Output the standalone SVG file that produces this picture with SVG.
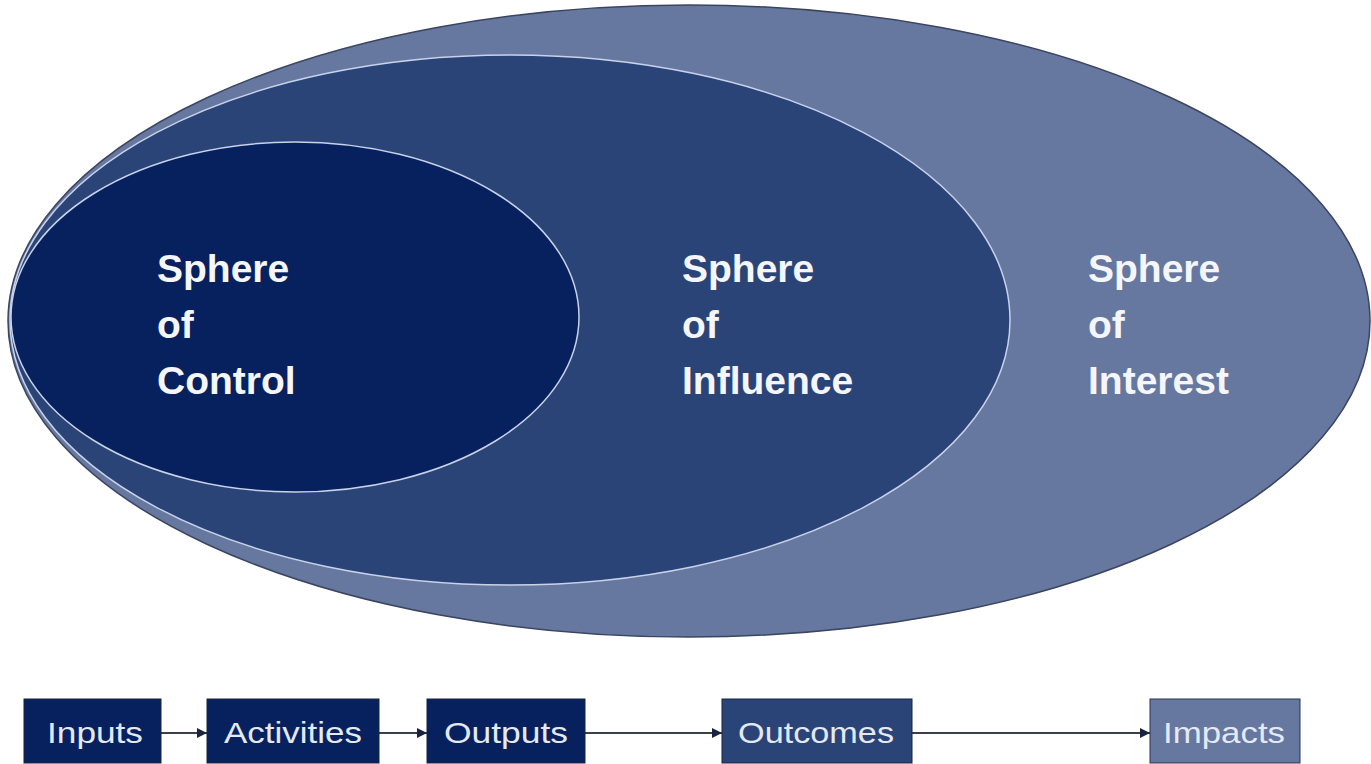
<svg xmlns="http://www.w3.org/2000/svg" width="1371" height="764" viewBox="0 0 1371 764">
<style>
.lbl{font-family:"Liberation Sans",Arial,sans-serif;font-weight:bold;font-size:39px;fill:#f4f6fb}
.blbl{font-family:"Liberation Sans",Arial,sans-serif;font-size:30px;fill:#e4e9f4}
.conn{stroke:#3a3f4a;stroke-width:2;fill:none;marker-end:url(#ah)}
</style>
<defs>
<marker id="ah" viewBox="0 0 10 10" refX="10" refY="5" markerWidth="5" markerHeight="5" orient="auto" markerUnits="strokeWidth">
<path d="M0,0 L10,5 L0,10 z" fill="#1a2440"/>
</marker>
</defs>
<rect width="1371" height="764" fill="#ffffff"/>
<g id="sphere-interest">
<ellipse cx="689" cy="321" rx="681" ry="316" fill="#6677a0" stroke="#3b4560" stroke-width="1.5"/>
<text class="lbl" x="1088" y="282">Sphere</text>
<text class="lbl" x="1088" y="338">of</text>
<text class="lbl" x="1088" y="394">Interest</text>
</g>
<g id="sphere-influence">
<ellipse cx="510" cy="320" rx="500" ry="265" fill="#2a4478" stroke="#c8d2ea" stroke-width="1.5"/>
<text class="lbl" x="682" y="282">Sphere</text>
<text class="lbl" x="682" y="338">of</text>
<text class="lbl" x="682" y="394">Influence</text>
</g>
<g id="sphere-control">
<ellipse cx="295" cy="317" rx="284" ry="175" fill="#06215e" stroke="#c8d2ea" stroke-width="1.5"/>
<text class="lbl" x="157" y="282">Sphere</text>
<text class="lbl" x="157" y="338">of</text>
<text class="lbl" x="157" y="394">Control</text>
</g>
<g id="connectors">
<line class="conn" x1="161" y1="733" x2="207" y2="733"/>
<line class="conn" x1="379" y1="733" x2="427" y2="733"/>
<line class="conn" x1="585" y1="733" x2="722" y2="733"/>
<line class="conn" x1="912" y1="733" x2="1150" y2="733"/>
</g>
<g id="inputs">
<rect x="24" y="699" width="137" height="64" fill="#06215e" stroke="#1a2440"/>
<text class="blbl" x="47" y="743" textLength="96" lengthAdjust="spacingAndGlyphs">Inputs</text>
</g>
<g id="activities">
<rect x="207" y="699" width="172" height="64" fill="#06215e" stroke="#1a2440"/>
<text class="blbl" x="224" y="743" textLength="138" lengthAdjust="spacingAndGlyphs">Activities</text>
</g>
<g id="outputs">
<rect x="427" y="699" width="158" height="64" fill="#06215e" stroke="#1a2440"/>
<text class="blbl" x="444" y="743" textLength="124" lengthAdjust="spacingAndGlyphs">Outputs</text>
</g>
<g id="outcomes">
<rect x="722" y="699" width="190" height="64" fill="#2a4478" stroke="#1a2440"/>
<text class="blbl" x="738" y="743" textLength="156" lengthAdjust="spacingAndGlyphs">Outcomes</text>
</g>
<g id="impacts">
<rect x="1150" y="699" width="150" height="64" fill="#6677a0" stroke="#2a3450"/>
<text class="blbl" x="1163" y="743" textLength="122" lengthAdjust="spacingAndGlyphs">Impacts</text>
</g>
</svg>
